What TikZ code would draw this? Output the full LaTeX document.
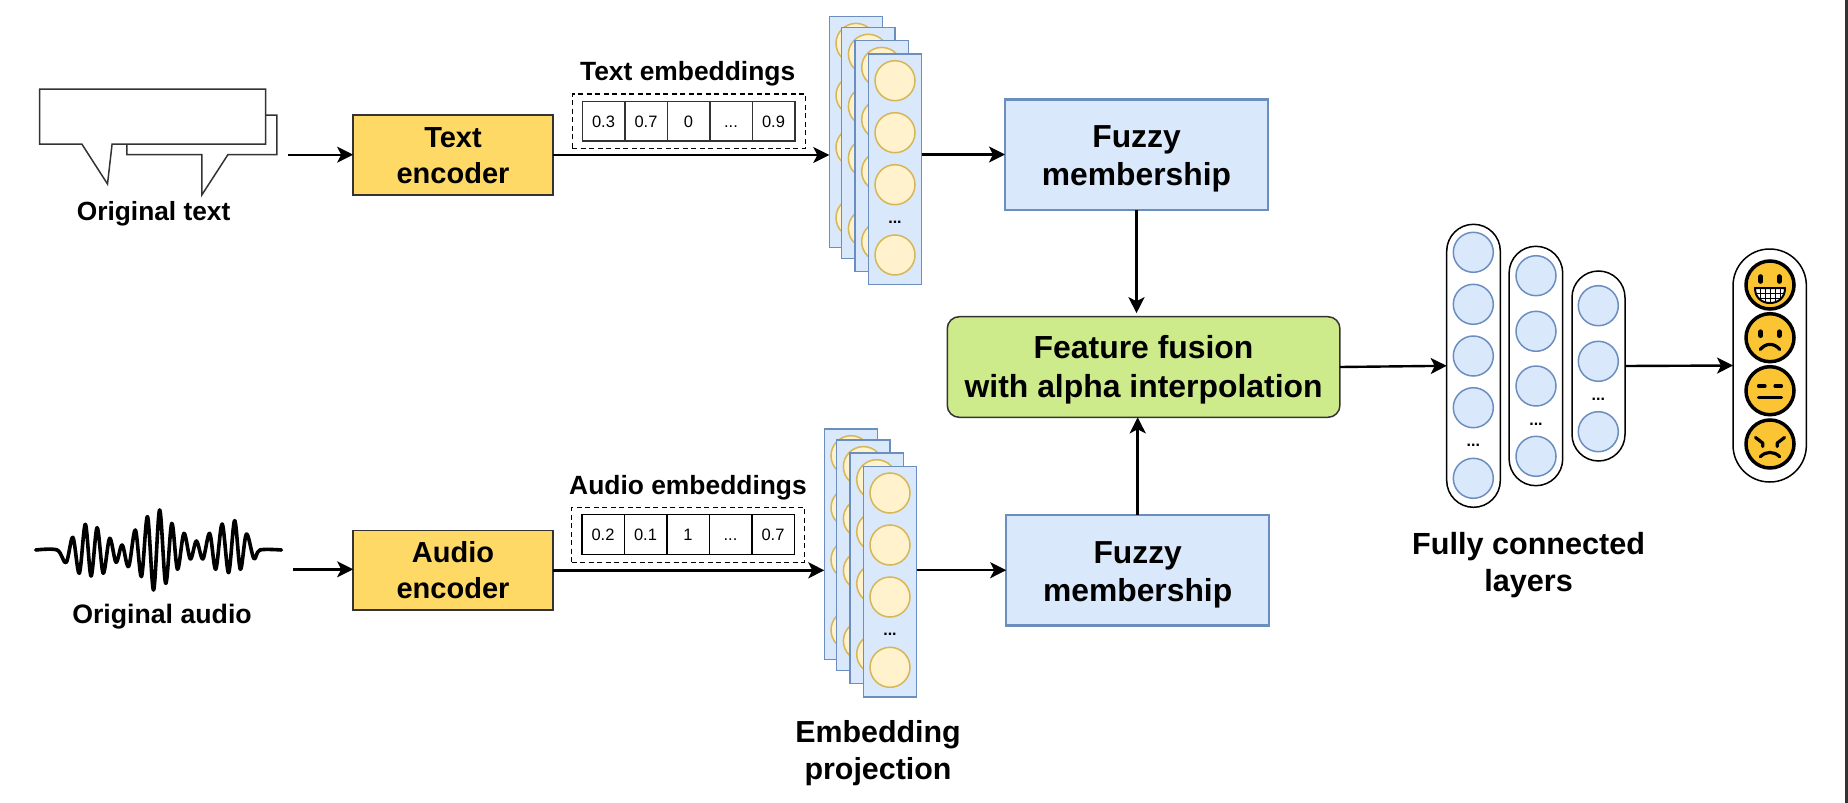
\documentclass[tikz,border=0pt]{standalone}
\usepackage{fontspec}
\setmainfont{Liberation Sans}
\usetikzlibrary{arrows.meta,calc}
\definecolor{bluef}{HTML}{DAE8FC}
\definecolor{blues}{HTML}{6C8EBF}
\definecolor{yelf}{HTML}{FFF2CC}
\definecolor{yels}{HTML}{D6B656}
\definecolor{gold}{HTML}{FFD966}
\definecolor{greenf}{HTML}{CDEB8B}
\definecolor{dk}{HTML}{333333}
\definecolor{emo}{HTML}{FBC433}
\newcommand{\celldots}{...}
% two lines whose first-line height and last-line depth are fixed, so baselines land exactly
\newcommand{\twolines}[3]{\rule{0pt}{#1pt}#2\\\rule[-10pt]{0pt}{10pt}#3}
\tikzset{
  arr/.style={line width=2.4pt,-{Stealth[length=16pt,width=16pt,inset=4pt]}},
  lab/.style={font=\bfseries\fontsize{#1}{37}\selectfont,inner sep=0pt,outer sep=0pt,align=center},
  encbox/.style={draw=dk,line width=1.5pt,fill=gold,inner sep=0pt,outer sep=0pt,minimum width=199.7pt,align=center,font=\bfseries\fontsize{29}{36}\selectfont},
  fuzzbox/.style={draw=blues,line width=2.5pt,fill=bluef,inner sep=0pt,outer sep=0pt,minimum width=263pt,minimum height=110.5pt,align=center,font=\bfseries\fontsize{31.8}{38}\selectfont},
  fusebox/.style={draw=dk,line width=1.5pt,fill=greenf,rounded corners=12pt,inner sep=0pt,outer sep=0pt,minimum width=392.7pt,minimum height=100.6pt,align=center,font=\bfseries\fontsize{31.9}{39}\selectfont},
  panel/.style={draw=blues,line width=1.5pt,fill=bluef,inner sep=0pt,outer sep=0pt,minimum width=53.3pt,minimum height=230.7pt,anchor=north west},
  ycirc/.style={circle,draw=yels,line width=1.5pt,fill=yelf,inner sep=0pt,minimum size=40pt},
  bcirc/.style={circle,draw=blues,line width=1.5pt,fill=bluef,inner sep=0pt,minimum size=40pt},
  pill/.style={draw=black,line width=1.5pt,fill=white,inner sep=0pt,outer sep=0pt},
  cell/.style={draw=#1,line width=1.5pt,fill=white,inner sep=0pt,outer sep=0pt,minimum width=42.5pt,minimum height=39.7pt,text height=12pt,text depth=0pt,font=\fontsize{16.5}{20}\selectfont},
  dashbox/.style={draw=black,line width=1.5pt,dash pattern=on 5pt off 3.5pt,inner sep=0pt,outer sep=0pt},
  dotlab/.style={font=\bfseries\fontsize{16}{20}\selectfont,inner sep=0pt,anchor=base},
  emoface/.style={circle,draw=black,line width=3.5pt,fill=emo,inner sep=0pt,outer sep=0pt,minimum size=48pt},
  feat/.style={line width=3.2pt,line cap=round,black},
}
\newcommand{\mystack}[3]{%
  \node[panel] (#1-a) at (#2,#3) {};
  \foreach \o/\yy in {1/26.7,2/78.7,3/130.7,4/201}{\node[ycirc] (#1-a\o) at (#2+26.7,#3+\yy) {};}
  \node[panel] (#1-b) at (#2+12.4,#3+10.9) {};
  \foreach \o/\yy in {1/26.7,2/78.7,3/130.7,4/201}{\node[ycirc] (#1-b\o) at (#2+39.1,#3+10.9+\yy) {};}
  \node[panel] (#1-c) at (#2+25.7,#3+24) {};
  \foreach \o/\yy in {1/26.7,2/78.7,3/130.7,4/201}{\node[ycirc] (#1-c\o) at (#2+52.4,#3+24+\yy) {};}
  \node[panel] (#1-d) at (#2+39,#3+37.3) {};
  \foreach \o/\yy in {1/26.7,2/78.7,3/130.7,4/201}{\node[ycirc] (#1-d\o) at (#2+65.7,#3+37.3+\yy) {};}
  \node[dotlab] (#1-dots) at (#2+65.7,#3+37.3+169) {\celldots};
}
\begin{document}
\begin{tikzpicture}[x=1pt,y=-1pt]
\useasboundingbox (0,0) rectangle (1848,803);
\fill[white] (0,0) rectangle (1848,803);
\fill[dk] (1845,0) rectangle (1848,803);

% speech bubbles
\draw[line width=1.5pt,draw=dk,fill=white,line join=miter] (126.8,115) -- (276.8,115) -- (276.8,154.7) -- (227.9,154.7) -- (201.8,195) -- (201.8,154.7) -- (126.8,154.7) -- cycle;
\draw[line width=1.5pt,draw=dk,fill=white,line join=miter] (39.6,89) -- (265.7,89) -- (265.7,144) -- (112.1,144) -- (107.5,184) -- (81.8,144) -- (39.6,144) -- cycle;
\node[lab=26.3] (otext) at (153.6,214) {Original text};

% waveform
\begin{scope}[shift={(0,480)},x=0.35714pt,y=-0.3333pt]
\draw[line width=3.6pt,line cap=round,line join=round] plot[smooth,tension=0.55] coordinates {(100,210) (160,210) (185,248) (204,172) (222,280) (239,133) (255,288) (272,143) (289,280) (307,175) (325,247) (342,195) (360,260) (379,150) (396,290) (413,110) (430,330) (447,90) (464,310) (481,130) (497,268) (515,160) (533,237) (550,183) (568,237) (587,160) (604,268) (622,132) (640,278) (657,122) (673,268) (690,162) (711,236) (728,210) (788,210)};
\end{scope}
\node[lab=26.7] (oaudio) at (162,617) {Original audio};

% encoders
\node[encbox,minimum height=80pt] (tenc) at (453,155) {\twolines{31.8}{Text}{encoder}};
\node[encbox,minimum height=79.3pt] (aenc) at (453,570.3) {\twolines{29.5}{Audio}{encoder}};

% embedding tables
\node[lab=26.4] (tlab) at (687.7,73.5) {Text embeddings};
\node[dashbox,minimum width=233pt,minimum height=54.7pt] (tdash) at (688.8,121.3) {};
\foreach \i/\t in {0/0.3,1/0.7,2/0,3/\celldots,4/0.9}{\node[cell=dk] (tc\i) at (603.5+42.5*\i,121.2) {\t};}
\node[lab=26.4] (alab) at (688,487.5) {Audio embeddings};
\node[dashbox,minimum width=232.6pt,minimum height=54.6pt] (adash) at (688,535) {};
\foreach \i/\t in {0/0.2,1/0.1,2/1,3/\celldots,4/0.7}{\node[cell=black] (ac\i) at (603+42.5*\i,534.5) {\t};}

% stacks
\mystack{ts}{829.3}{16.7}
\mystack{as}{824.3}{429}
\node[lab=30.4] (eplab) at (878,753) {Embedding\\projection};

% fuzzy
\node[fuzzbox] (tf) at (1136.5,154.5) {\twolines{33.7}{Fuzzy}{membership}};
\node[fuzzbox] (af) at (1137.7,570.2) {\twolines{34.6}{Fuzzy}{membership}};

% fusion
\node[fusebox] (fu) at (1143.6,367) {\twolines{32.8}{Feature fusion}{with alpha interpolation}};

% fully connected layers
\node[pill,rounded corners=26.8pt,minimum width=53.6pt,minimum height=283pt] (p1) at (1473.5,365.8) {};
\foreach \o/\yy in {1/252.3,2/304.3,3/356,4/407.7,5/478.3}{\node[bcirc] (p1c\o) at (1473.3,\yy) {};}
\node[dotlab] (p1d) at (1473.3,446.5) {\celldots};
\node[pill,rounded corners=26.8pt,minimum width=53.6pt,minimum height=239.4pt] (p2) at (1535.9,366) {};
\foreach \o/\yy in {1/275.7,2/331.3,3/386,4/456.3}{\node[bcirc] (p2c\o) at (1536,\yy) {};}
\node[dotlab] (p2d) at (1536,425.5) {\celldots};
\node[pill,rounded corners=26.5pt,minimum width=53pt,minimum height=190pt] (p3) at (1598.5,366) {};
\foreach \o/\yy in {1/305.7,2/361.3,3/431.7}{\node[bcirc] (p3c\o) at (1598.3,\yy) {};}
\node[dotlab] (p3d) at (1598.3,400.8) {\celldots};
\node[lab=30.6] (fclab) at (1528.6,565) {Fully connected\\layers};

% emoji column
\node[pill,rounded corners=36.6pt,minimum width=73.3pt,minimum height=233pt] (ep) at (1769.7,365.5) {};
\node[emoface] (e1) at (1770,285) {};
\node[emoface] (e2) at (1770,337.7) {};
\node[emoface] (e3) at (1770,390.7) {};
\node[emoface] (e4) at (1770,444) {};
\begin{scope}[shift={(e1.center)}]
  \draw[feat,line width=4.6pt] (-9.3,-8.5) -- (-9.3,-3.5) (9.3,-8.5) -- (9.3,-3.5);
  \begin{scope}
    \clip (-15,3) -- (15,3) .. controls (15,13) and (8,18) .. (0,18) .. controls (-8,18) and (-15,13) .. (-15,3) -- cycle;
    \fill[white] (-16,2) rectangle (16,19);
    \draw[line width=1pt] (-10,2) -- (-10,19) (-5,2) -- (-5,19) (0,2) -- (0,19) (5,2) -- (5,19) (10,2) -- (10,19) (-16,8) -- (16,8) (-16,13) -- (16,13);
  \end{scope}
  \draw[line width=2pt,line join=round] (-15,3) -- (15,3) .. controls (15,13) and (8,18) .. (0,18) .. controls (-8,18) and (-15,13) .. (-15,3) -- cycle;
\end{scope}
\begin{scope}[shift={(e2.center)}]
  \draw[feat,line width=4.6pt] (-9.3,-6) -- (-9.3,-2) (9.3,-6) -- (9.3,-2);
  \draw[feat] (-9.7,11.7) .. controls (-4,5) and (4,5) .. (9.7,11.7);
\end{scope}
\begin{scope}[shift={(e3.center)}]
  \draw[feat] (-11.5,-4.7) -- (-5,-4.7) (5,-4.7) -- (11.5,-4.7) (-11.5,6.7) -- (11.5,6.7);
\end{scope}
\begin{scope}[shift={(e4.center)}]
  \draw[feat,line join=round] (-14.5,-6.5) -- (-7.3,-1) -- (-7.3,2.5) (14.5,-6.5) -- (7.3,-1) -- (7.3,2.5);
  \draw[feat] (-9.7,12.7) .. controls (-4,7) and (4,7) .. (9.7,12.7);
\end{scope}

% connectors
\coordinate (tsrc) at (287.5,154.7);
\coordinate (asrc) at (292.9,569.3);
\draw[arr] (tsrc) -- (tenc.west |- tsrc);
\draw[arr] (asrc) -- (aenc.west |- asrc);
\draw[arr] (tenc.east) -- (tenc.east -| ts-a.west);
\draw[arr] (aenc.east) -- (aenc.east -| as-a.west);
\draw[arr] (ts-d.east |- tf.west) -- (tf.west);
\draw[arr] (as-d.east |- af.west) -- (af.west);
\draw[arr,shorten >=3.5pt] (tf.south) -- (tf.south |- fu.north);
\draw[arr,line width=2.8pt] (af.north) -- (af.north |- fu.south);
\draw[arr] (fu.east) -- (p1.west);
\draw[arr] (p3.east) -- (ep.west);
\end{tikzpicture}
\end{document}
